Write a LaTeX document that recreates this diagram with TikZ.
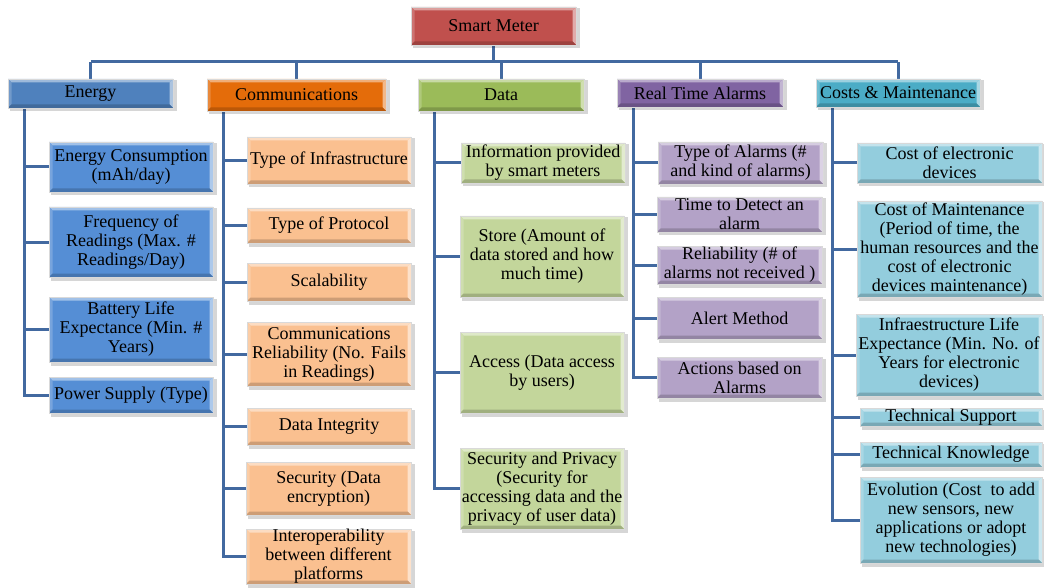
\documentclass[tikz,border=0pt]{standalone}
\usepackage{fontspec}
\setmainfont{Liberation Serif}
\usetikzlibrary{backgrounds}

\definecolor{smc}{HTML}{C0504D}
\definecolor{enh}{HTML}{4F81BD}
\definecolor{enc}{HTML}{558ED5}
\definecolor{coh}{HTML}{E46C0A}
\definecolor{coc}{HTML}{FAC090}
\definecolor{dah}{HTML}{9BBB59}
\definecolor{dac}{HTML}{C3D69B}
\definecolor{rah}{HTML}{8064A2}
\definecolor{rac}{HTML}{B3A2C7}
\definecolor{cmh}{HTML}{4BACC6}
\definecolor{cmc}{HTML}{93CDDD}
\definecolor{connc}{RGB}{66,105,160}

\newcommand\boxfont{\fontsize{18}{19}\selectfont}

\tikzset{
  bevelbox/.style={
    fill=#1, draw=black!15, line width=0.5pt, inner sep=0pt, align=center,
    font=\boxfont, text=black,
    path picture={
      \def\pb{path picture bounding box}
      \fill[#1!55!white] (\pb.north west) -- (\pb.north east)
        -- ([xshift=-3.5pt,yshift=-3.5pt]\pb.north east) -- ([xshift=3.5pt,yshift=-3.5pt]\pb.north west) -- cycle;
      \fill[#1!80!white] (\pb.north west) -- (\pb.south west)
        -- ([xshift=3.5pt,yshift=3.5pt]\pb.south west) -- ([xshift=3.5pt,yshift=-3.5pt]\pb.north west) -- cycle;
      \fill[#1!48!white] (\pb.north east) -- (\pb.south east)
        -- ([xshift=-3.5pt,yshift=3.5pt]\pb.south east) -- ([xshift=-3.5pt,yshift=-3.5pt]\pb.north east) -- cycle;
      \fill[#1!82!black] (\pb.south west) -- (\pb.south east)
        -- ([xshift=-3.5pt,yshift=3.5pt]\pb.south east) -- ([xshift=3.5pt,yshift=3.5pt]\pb.south west) -- cycle;
    }},
  boxshadow/.style={fill=black, opacity=0.16},
  link/.style={draw=connc, line width=3pt},
}

% box: name, left, top, right, bottom, colour, text
\newcommand\bx[7]{%
  \fill[boxshadow] ({#2+1.5},{#3+1.5}) rectangle ({#4+3.5},{#5+3.5});
  \node[bevelbox=#6, minimum width={#4-#2}, minimum height={#5-#3}]
    (#1) at ({(#2+#4)/2},{(#3+#5)/2}) {#7};
}

\begin{document}
\begin{tikzpicture}[x=1pt, y=-1pt]
\useasboundingbox (0,0) rectangle (1044,588);

% root
\bx{sm}{411}{7}{576}{45}{smc}{Smart Meter}

% categories
\bx{en}{8}{79}{173}{108}{enh}{Energy}
\bx{co}{207}{79}{386}{111}{coh}{Communications}
\bx{da}{418}{79}{584}{111}{dah}{Data}
\bx{ra}{617}{79}{783}{107}{rah}{Real Time Alarms}
\bx{cm}{816}{79}{980}{107}{cmh}{Costs \& Maintenance}

% energy
\bx{e1}{49}{142}{213}{192}{enc}{Energy Consumption\\(mAh/day)}
\bx{e2}{49}{207}{213}{277}{enc}{Frequency of\\Readings (Max. \#\\Readings/Day)}
\bx{e3}{49}{297}{213}{362}{enc}{Battery Life\\Expectance (Min. \#\\Years)}
\bx{e4}{49}{377}{213}{413}{enc}{Power Supply (Type)}

% communications
\bx{c1}{247}{137}{411}{184}{coc}{Type of Infrastructure}
\bx{c2}{247}{208}{411}{243}{coc}{Type of Protocol}
\bx{c3}{247}{263}{411}{301}{coc}{Scalability}
\bx{c4}{247}{322}{411}{386}{coc}{Communications\\Reliability (No. Fails\\in Readings)}
\bx{c5}{247}{408}{411}{445}{coc}{Data Integrity}
\bx{c6}{246}{462}{411}{515}{coc}{Security (Data\\encryption)}
\bx{c7}{246}{529}{411}{584}{coc}{Interoperability\\between different\\platforms}

% data
\bx{d1}{461}{143}{625}{183}{dac}{Information provided\\by smart meters}
\bx{d2}{460}{216}{624}{297}{dac}{Store (Amount of\\data stored and how\\much time)}
\bx{d3}{460}{332}{624}{413}{dac}{Access (Data access\\by users)}
\bx{d4}{460}{448}{624}{529}{dac}{Security and Privacy\\(Security for\\accessing data and the\\privacy of user data)}

% real time alarms
\bx{r1}{658}{142}{823}{184}{rac}{Type of Alarms (\#\\and kind of alarms)}
\bx{r2}{657}{197}{822}{232}{rac}{Time to Detect an\\alarm}
\bx{r3}{657}{246}{822}{284}{rac}{Reliability (\# of\\alarms not received\ )}
\bx{r4}{657}{297}{822}{339}{rac}{Alert Method}
\bx{r5}{657}{357}{822}{398}{rac}{Actions based on\\Alarms}

% costs and maintenance
\bx{k1}{857}{143}{1042}{183}{cmc}{Cost of electronic\\devices}
\bx{k2}{857}{201}{1042}{297}{cmc}{Cost of Maintenance\\(Period of time, the\\human resources and the\\cost of electronic\\devices maintenance)}
\bx{k3}{856}{314}{1042}{396}{cmc}{Infraestructure Life\\Expectance (Min. No. of\\Years for electronic\\devices)}
\bx{k4}{860}{408}{1042}{426}{cmc}{Technical Support}
\bx{k5}{860}{442}{1042}{467}{cmc}{Technical Knowledge}
\bx{k6}{860}{477}{1042}{563}{cmc}{Evolution (Cost\ \ to add\\new sensors, new\\applications or adopt\\new technologies)}

\begin{scope}[on background layer]
  \coordinate (bus) at (0,62);
  % root to categories
  \draw[link] (sm.south) -- (sm.south |- bus);
  \draw[link] (en.north |- bus) -- (cm.north |- bus);
  \foreach \c in {en,co,da,ra,cm}
    \draw[link] (\c.north) -- (\c.north |- bus);
  % category trunks to items
  \foreach \p/\items in {en/{e1,e2,e3,e4}, co/{c1,c2,c3,c4,c5,c6,c7},
                         da/{d1,d2,d3,d4}, ra/{r1,r2,r3,r4,r5},
                         cm/{k1,k2,k3,k4,k5,k6}}
    \foreach \i in \items
      \draw[link] ([xshift=17pt]\p.south west) |- (\i.west);
\end{scope}
\end{tikzpicture}
\end{document}
